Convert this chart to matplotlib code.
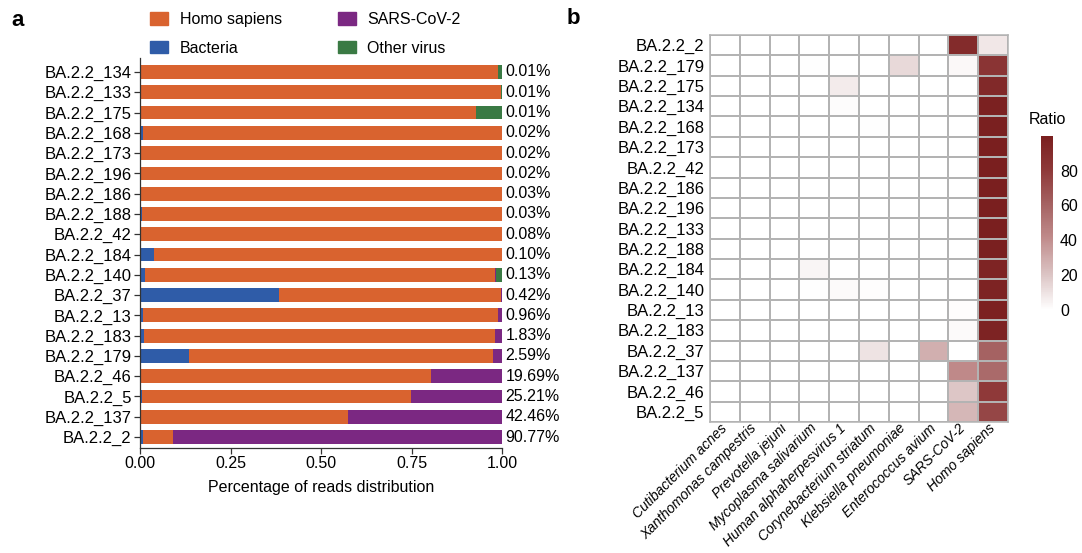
import matplotlib
matplotlib.use("Agg")
import matplotlib.pyplot as plt
import numpy as np
from matplotlib.colors import LinearSegmentedColormap
from matplotlib.patches import Patch

plt.rcParams['font.family'] = ['Liberation Sans', 'DejaVu Sans']

# ---------------- Panel a data ----------------
samples_a = ["BA.2.2_134", "BA.2.2_133", "BA.2.2_175", "BA.2.2_168", "BA.2.2_173",
             "BA.2.2_196", "BA.2.2_186", "BA.2.2_188", "BA.2.2_42", "BA.2.2_184",
             "BA.2.2_140", "BA.2.2_37", "BA.2.2_13", "BA.2.2_183", "BA.2.2_179",
             "BA.2.2_46", "BA.2.2_5", "BA.2.2_137", "BA.2.2_2"]
bacteria = [0.002, 0.001, 0.001, 0.007, 0.002, 0.001, 0.001, 0.005, 0.002, 0.039,
            0.015, 0.384, 0.007, 0.011, 0.134, 0.002, 0.005, 0.003, 0.008]
homo = [0.986, 0.997, 0.926, 0.993, 0.998, 0.999, 0.999, 0.995, 0.997, 0.960,
        0.967, 0.612, 0.983, 0.971, 0.840, 0.801, 0.743, 0.572, 0.084]
sars = [0.0001, 0.0001, 0.0001, 0.0002, 0.0002, 0.0002, 0.0003, 0.0003, 0.0008, 0.0010,
        0.0013, 0.0042, 0.0096, 0.0183, 0.0259, 0.1969, 0.2521, 0.4246, 0.9077]
other = [0.012, 0.002, 0.073, 0.0, 0.0, 0.0, 0.0, 0.0, 0.0, 0.0,
         0.017, 0.0, 0.0, 0.0, 0.0, 0.0, 0.0, 0.0, 0.0]
pct_labels = ["0.01%", "0.01%", "0.01%", "0.02%", "0.02%", "0.02%", "0.03%", "0.03%",
              "0.08%", "0.10%", "0.13%", "0.42%", "0.96%", "1.83%", "2.59%",
              "19.69%", "25.21%", "42.46%", "90.77%"]
xticks_a = [0.0, 0.25, 0.5, 0.75, 1.0]

# ---------------- Panel b data ----------------
samples_b = ["BA.2.2_2", "BA.2.2_179", "BA.2.2_175", "BA.2.2_134", "BA.2.2_168",
             "BA.2.2_173", "BA.2.2_42", "BA.2.2_186", "BA.2.2_196", "BA.2.2_133",
             "BA.2.2_188", "BA.2.2_184", "BA.2.2_140", "BA.2.2_13", "BA.2.2_183",
             "BA.2.2_37", "BA.2.2_137", "BA.2.2_46", "BA.2.2_5"]
species = ["Cutibacterium acnes", "Xanthomonas campestris", "Prevotella jejuni",
           "Mycoplasma salivarium", "Human alphaherpesvirus 1", "Corynebacterium striatum",
           "Klebsiella pneumoniae", "Enterococcus avium", "SARS-CoV-2", "Homo sapiens"]
ratio = [
    [0, 0, 0, 0.0, 0.0, 0.0, 0.0, 0.0, 90.8, 8.4],
    [0, 0, 0, 0.4, 0.0, 0.0, 13.0, 0.0, 2.6, 84.0],
    [0, 0, 0, 0.0, 7.3, 0.0, 0.0, 0.0, 0.0, 92.6],
    [0, 0, 0, 0.0, 1.2, 0.0, 0.0, 0.0, 0.0, 98.6],
    [0, 0, 0, 0.0, 0.0, 0.7, 0.0, 0.0, 0.0, 99.3],
    [0, 0, 0, 0.0, 0.0, 0.0, 0.0, 0.0, 0.0, 99.8],
    [0, 0, 0, 0.0, 0.0, 0.0, 0.0, 0.0, 0.0, 99.7],
    [0, 0, 0, 0.0, 0.0, 0.0, 0.0, 0.0, 0.0, 99.9],
    [0, 0, 0, 0.0, 0.0, 0.0, 0.0, 0.0, 0.0, 99.9],
    [0, 0, 0, 0.0, 0.0, 0.0, 0.0, 0.0, 0.0, 99.7],
    [0, 0, 0, 0.0, 0.0, 0.0, 0.0, 0.0, 0.0, 99.5],
    [0, 0, 0, 3.9, 0.0, 0.0, 0.0, 0.0, 0.0, 96.0],
    [0, 0, 0, 0.5, 1.7, 1.0, 0.0, 0.0, 0.0, 96.7],
    [0, 0, 0, 0.0, 0.0, 0.0, 0.0, 0.0, 0.96, 98.3],
    [0, 0, 0, 0.0, 0.0, 0.0, 0.0, 0.0, 1.83, 97.1],
    [0, 0, 0, 0.0, 0.0, 10.0, 0.0, 28.4, 0.0, 61.2],
    [0, 0, 0, 0.0, 0.0, 0.0, 0.0, 0.0, 42.5, 57.2],
    [0, 0, 0, 0.0, 0.0, 0.0, 0.0, 0.0, 19.7, 80.1],
    [0, 0, 0, 0.0, 0.0, 0.0, 0.0, 0.0, 25.2, 74.3],
]
cbar_ticks = [0, 20, 40, 60, 80]

# ---------------- styling ----------------
c_homo = "#d9632f"
c_bact = "#2f5ca8"
c_sars = "#7b2882"
c_other = "#3a7a44"
cmap = LinearSegmentedColormap.from_list(
    "ratio", [(0.0, "#ffffff"), (0.2, "#dcc5c5"), (0.42, "#bf8a8a"),
              (0.6, "#a66464"), (0.8, "#8f3a3a"), (1.0, "#7a1f1f")])

W, H = 1082, 553
fig = plt.figure(figsize=(W / 100, H / 100), dpi=100)


def fx(px):
    return px / W


def fy(py):
    return 1 - py / H


# ---------------- Panel a ----------------
ax = fig.add_axes([fx(140), fy(448), fx(502) - fx(140), fy(58) - fy(448)])
n = len(samples_a)
ypos = np.arange(n)[::-1]
bh = 0.68
left = np.zeros(n)
for vals, col in [(bacteria, c_bact), (homo, c_homo), (sars, c_sars), (other, c_other)]:
    v = np.array(vals)
    ax.barh(ypos, v, left=left, height=bh, color=col, edgecolor="none")
    left = left + v
for y, lab in zip(ypos, pct_labels):
    ax.text(1.01, y, lab, va="center", ha="left", fontsize=11.5,
            transform=ax.get_yaxis_transform())
ax.set_yticks(ypos)
ax.set_yticklabels(samples_a, fontsize=12)
ax.set_xticks(xticks_a)
ax.set_xticklabels(["%.2f" % t for t in xticks_a], fontsize=11.5)
ax.set_xlim(0, 1.0)
ax.set_ylim(-0.54, n - 1 + 0.69)
ax.spines["top"].set_visible(False)
ax.spines["right"].set_visible(False)
for s in ["left", "bottom"]:
    ax.spines[s].set_color("#333333")
    ax.spines[s].set_linewidth(0.9)
ax.tick_params(axis="both", length=4, width=0.9, color="#333333", pad=2)
ax.set_xlabel("Percentage of reads distribution", fontsize=11.5, labelpad=6)

handles = [Patch(color=c_homo, label="Homo sapiens"),
           Patch(color=c_bact, label="Bacteria"),
           Patch(color=c_sars, label="SARS-CoV-2"),
           Patch(color=c_other, label="Other virus")]
fig.legend(handles=handles, ncol=2, loc="upper left",
           bbox_to_anchor=(fx(150), fy(12)), frameon=False, fontsize=11.5,
           handlelength=1.15, handleheight=0.85, handletextpad=0.7,
           columnspacing=3.5, labelspacing=0.85, borderpad=0, borderaxespad=0)

fig.text(fx(11), fy(20), "a", fontsize=16, fontweight="bold", va="center", ha="left")
fig.text(fx(567), fy(18), "b", fontsize=16, fontweight="bold", va="center", ha="left")

# ---------------- Panel b ----------------
axh = fig.add_axes([fx(710), fy(422), fx(1008) - fx(710), fy(35) - fy(422)])
data = np.array(ratio)
vmax = data.max()
mesh = axh.pcolormesh(np.arange(len(species) + 1), np.arange(len(samples_b) + 1),
                      data, cmap=cmap, vmin=0, vmax=vmax,
                      edgecolors="#b3b3b3", linewidth=1.1)
axh.set_xlim(0, len(species))
axh.set_ylim(len(samples_b), 0)
axh.set_yticks(np.arange(len(samples_b)) + 0.5)
axh.set_yticklabels(samples_b, fontsize=12)
axh.set_xticks(np.arange(len(species)) + 0.5)
axh.set_xticklabels(species, fontsize=10, style="italic", rotation=45,
                    ha="right", va="center", rotation_mode="anchor")
axh.tick_params(axis="x", length=0, pad=3)
axh.tick_params(axis="y", length=0, pad=4)
for s in axh.spines.values():
    s.set_color("#b3b3b3")
    s.set_linewidth(1.1)

cax = fig.add_axes([fx(1041), fy(310), fx(1053) - fx(1041), fy(136) - fy(310)])
cb = fig.colorbar(mesh, cax=cax, ticks=cbar_ticks)
cb.outline.set_visible(False)
cax.tick_params(length=0, labelsize=11.5, pad=5)
fig.text(fx(1047), fy(119), "Ratio", fontsize=11.5, ha="center", va="center")

fig.savefig("out.png", dpi=100)
